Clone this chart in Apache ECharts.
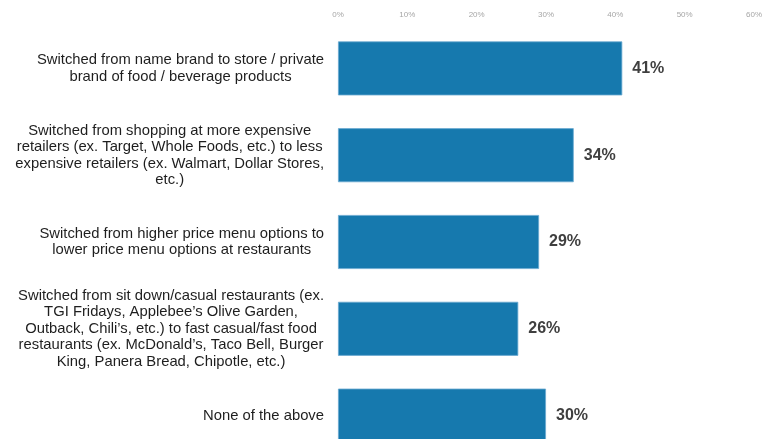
<!DOCTYPE html>
<html>
<head>
<meta charset="utf-8">
<script src="https://cdn.jsdelivr.net/npm/echarts@6/dist/echarts.min.js"></script>
<style>
  html, body { margin: 0; padding: 0; background: #fff; }
  #chart { width: 763px; height: 439px; }
</style>
</head>
<body>
<div id="chart"></div>
<script>
// Survey answers, top to bottom
const categories = [
  'Switched from name brand to store / private\nbrand of food / beverage products',
  'Switched from shopping at more expensive\nretailers (ex. Target, Whole Foods, etc.) to less\nexpensive retailers (ex. Walmart, Dollar Stores,\netc.)',
  'Switched from higher price menu options to\nlower price menu options at restaurants',
  'Switched from sit down/casual restaurants (ex.\nTGI Fridays, Applebee\u2019s Olive Garden,\nOutback, Chili\u2019s, etc.) to fast casual/fast food\nrestaurants (ex. McDonald\u2019s, Taco Bell, Burger\nKing, Panera Bread, Chipotle, etc.)',
  'None of the above'
];
// Share of respondents, percent
const shares = [41, 34, 29, 26, 30];
// Value axis ticks
const axisMin = 0;
const axisMax = 60;
const axisStep = 10;

const chart = echarts.init(document.getElementById('chart'), null, { renderer: 'canvas' });

chart.setOption({
  animation: false,
  backgroundColor: '#ffffff',
  // the plot runs past the bottom edge, so the last bar is cut
  grid: { left: 338, right: 9, top: 25, height: 434, containLabel: false, outerBoundsMode: 'none' },
  xAxis: {
    type: 'value',
    position: 'top',
    min: axisMin,
    max: axisMax,
    interval: axisStep,
    axisLine: { show: false },
    axisTick: { show: false },
    splitLine: { show: false },
    axisLabel: {
      formatter: '{value}%',
      color: '#a6a6a6',
      fontSize: 8,
      fontFamily: 'Liberation Sans, Arial, sans-serif',
      margin: 6
    }
  },
  yAxis: {
    type: 'category',
    inverse: true,
    data: categories,
    axisLine: { show: false },
    axisTick: { show: false },
    splitLine: { show: false },
    axisLabel: {
      margin: 14,
      align: 'right',
      formatter: function (v) {
        return v.split('\n').map(function (l) { return '{c|' + l + '}'; }).join('\n');
      },
      rich: {
        c: {
          align: 'center',
          fontSize: 14.8,
          lineHeight: 16.5,
          color: '#1e1e1e',
          fontFamily: 'Liberation Sans, Arial, sans-serif'
        }
      }
    }
  },
  series: [{
    type: 'bar',
    data: shares,
    barWidth: 54,
    itemStyle: {
      color: '#1679ae',
      borderColor: '#6aaad0',
      borderWidth: 0.8
    },
    label: {
      show: true,
      position: 'right',
      distance: 10,
      formatter: '{c}%',
      color: '#3f3f3f',
      fontSize: 16,
      fontWeight: 'bold',
      fontFamily: 'Liberation Sans, Arial, sans-serif'
    }
  }]
});
</script>
</body>
</html>
